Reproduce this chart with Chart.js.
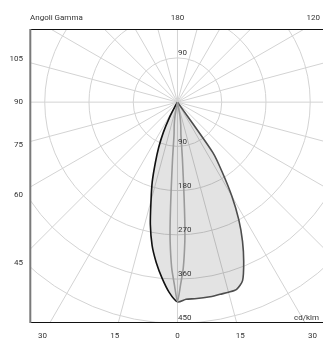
<!DOCTYPE html>
<html><head><meta charset="utf-8">
<script src="https://cdn.jsdelivr.net/npm/chart.js@4"></script>
<style>html,body{margin:0;padding:0;background:#fff}canvas{display:block}</style>
</head><body>
<canvas id="c" width="323" height="340"></canvas>
<script>
// Gamma angles (deg from nadir) and intensities (cd/klm)
const gammaWide = [0, 2.5, 5, 7.5, 10, 12.5, 15, 17.5, 20, 22.5, 25, 27.5, 30, 32.5, 35, 37.5];
const intensityC0 = [407, 402, 402, 402, 402, 401, 401, 400, 387, 352, 313, 270, 221, 170, 125, 0];
const intensityC180 = [407, 388, 360, 330, 297, 255, 208, 171, 132, 100, 68, 36, 6, 0, 0, 0];
const gammaNarrow = [0, 1, 2, 3, 3.5, 4, 5, 6, 8, 10, 12];
const intensityC90 = [407, 371, 338, 285, 244, 191, 114, 67, 48, 30, 0];
const intensityC270 = [407, 371, 338, 285, 244, 191, 114, 67, 48, 30, 0];
const ringValues = [90, 180, 270, 360, 450, 540];
const ringLabels = [90, 180, 270, 360, 450];
const leftAngleLabels = [105, 90, 75, 60, 45];
const bottomAngleLabels = [-30, -15, 0, 15, 30];
const topAngleLabels = [180, 120];
const titleText = 'Angoli Gamma';
const unitText = 'cd/klm';

function polar(g, r, sign) {
  const t = g * Math.PI / 180;
  return {x: sign * r * Math.sin(t), y: -r * Math.cos(t)};
}
function outline(gammas, leftVals, rightVals) {
  const trim = v => { const i = v.indexOf(0); return i < 0 ? v.length : i + 1; };
  const nl = trim(leftVals), nr = trim(rightVals);
  const pts = [];
  for (let i = nl - 1; i >= 0; i--) pts.push(polar(gammas[i], leftVals[i], -1));
  for (let i = 1; i < nr; i++) pts.push(polar(gammas[i], rightVals[i], 1));
  return {pts, split: nl - 1};
}
const wide = outline(gammaWide, intensityC180, intensityC0);
const narrow = outline(gammaNarrow, intensityC270, intensityC90);

const FONT = '8px Roboto';
const TEXT = '#333';

const gridPlugin = {
  id: 'polarGrid',
  beforeDatasetsDraw(chart) {
    const {ctx, chartArea: a, scales: {x, y}} = chart;
    const cx = x.getPixelForValue(0), cy = y.getPixelForValue(0);
    ctx.save();
    ctx.beginPath(); ctx.rect(a.left, a.top, a.right - a.left, a.bottom - a.top); ctx.clip();
    ctx.strokeStyle = '#d3d3d3'; ctx.lineWidth = 1;
    for (const v of ringValues) {
      const r = x.getPixelForValue(v) - cx;
      ctx.beginPath(); ctx.arc(cx, cy, r, 0, Math.PI * 2); ctx.stroke();
    }
    for (let g = 0; g < 360; g += 15) {
      const p = polar(g, 3000, 1);
      ctx.beginPath(); ctx.moveTo(cx, cy);
      ctx.lineTo(x.getPixelForValue(p.x), y.getPixelForValue(p.y)); ctx.stroke();
    }
    ctx.restore();
  },
  afterDraw(chart) {
    const {ctx, chartArea: a, scales: {x, y}, width} = chart;
    const cx = x.getPixelForValue(0), cy = y.getPixelForValue(0);
    ctx.save();
    // borders
    ctx.strokeStyle = '#111'; ctx.lineWidth = 1;
    ctx.beginPath(); ctx.moveTo(a.left, a.top + 0.5); ctx.lineTo(a.right, a.top + 0.5); ctx.stroke();
    ctx.beginPath(); ctx.moveTo(a.left, a.bottom + 0.5); ctx.lineTo(a.right, a.bottom + 0.5); ctx.stroke();
    ctx.strokeStyle = '#7a7a7a'; ctx.lineWidth = 2;
    ctx.beginPath(); ctx.moveTo(a.left + 0.3, a.top); ctx.lineTo(a.left + 0.3, a.bottom + 1); ctx.stroke();
    // texts
    ctx.font = FONT; ctx.fillStyle = TEXT; ctx.textBaseline = 'middle';
    const topY = a.top - 11.5;
    ctx.textAlign = 'left'; ctx.fillText(titleText, a.left, topY);
    ctx.textAlign = 'center';
    for (const g of topAngleLabels) {
      const t = (180 - g) * Math.PI / 180;
      let px = cx + (cy - topY) * Math.tan(t);
      const w = ctx.measureText(String(g)).width;
      px = Math.min(px, width - 3 - w / 2);
      ctx.fillText(String(g), px, topY);
    }
    const leftX = a.left - 7;
    ctx.textAlign = 'right';
    for (const g of leftAngleLabels) {
      const t = g * Math.PI / 180;
      const py = cy + (cx - (leftX - 6)) * Math.cos(t) / Math.sin(t);
      ctx.fillText(String(g), leftX, py);
    }
    const botY = a.bottom + 14;
    ctx.textAlign = 'center';
    for (const g of bottomAngleLabels) {
      const px = cx + (botY - cy) * Math.tan(g * Math.PI / 180);
      ctx.fillText(String(Math.abs(g)), px, botY);
    }
    ctx.textAlign = 'left';
    for (const v of ringLabels) {
      const r = cy - y.getPixelForValue(v);
      const below = cy + r - 4.5;
      if (below < a.bottom) ctx.fillText(String(v), cx + 0.5, below);
      const above = cy - r - 4.5;
      if (above - 4 > a.top) ctx.fillText(String(v), cx + 0.5, above);
    }
    ctx.textAlign = 'right';
    ctx.fillText(unitText, a.right - 4, a.bottom - 4);
    ctx.restore();
  }
};

new Chart(document.getElementById('c'), {
  type: 'line',
  data: {
    datasets: [
      {
        data: narrow.pts, borderColor: '#9a9a9a', borderWidth: 1.6, pointRadius: 0,
        fill: false, tension: 0.2
      },
      {
        data: wide.pts, borderColor: '#4d4d4d', borderWidth: 1.6, pointRadius: 0,
        backgroundColor: 'rgba(0,0,0,0.11)', fill: 'shape', tension: 0.25,
        segment: { borderColor: c => c.p0DataIndex < wide.split ? '#111' : '#4d4d4d' }
      }
    ]
  },
  options: {
    responsive: false, animation: false, devicePixelRatio: 1,
    layout: { padding: { left: 30, top: 29, right: 0, bottom: 18 } },
    scales: {
      x: { type: 'linear', min: -300, max: 296, display: false },
      y: { type: 'linear', min: -448, max: 149, display: false }
    },
    plugins: { legend: { display: false }, tooltip: { enabled: false } }
  },
  plugins: [gridPlugin]
});
</script>
</body></html>
